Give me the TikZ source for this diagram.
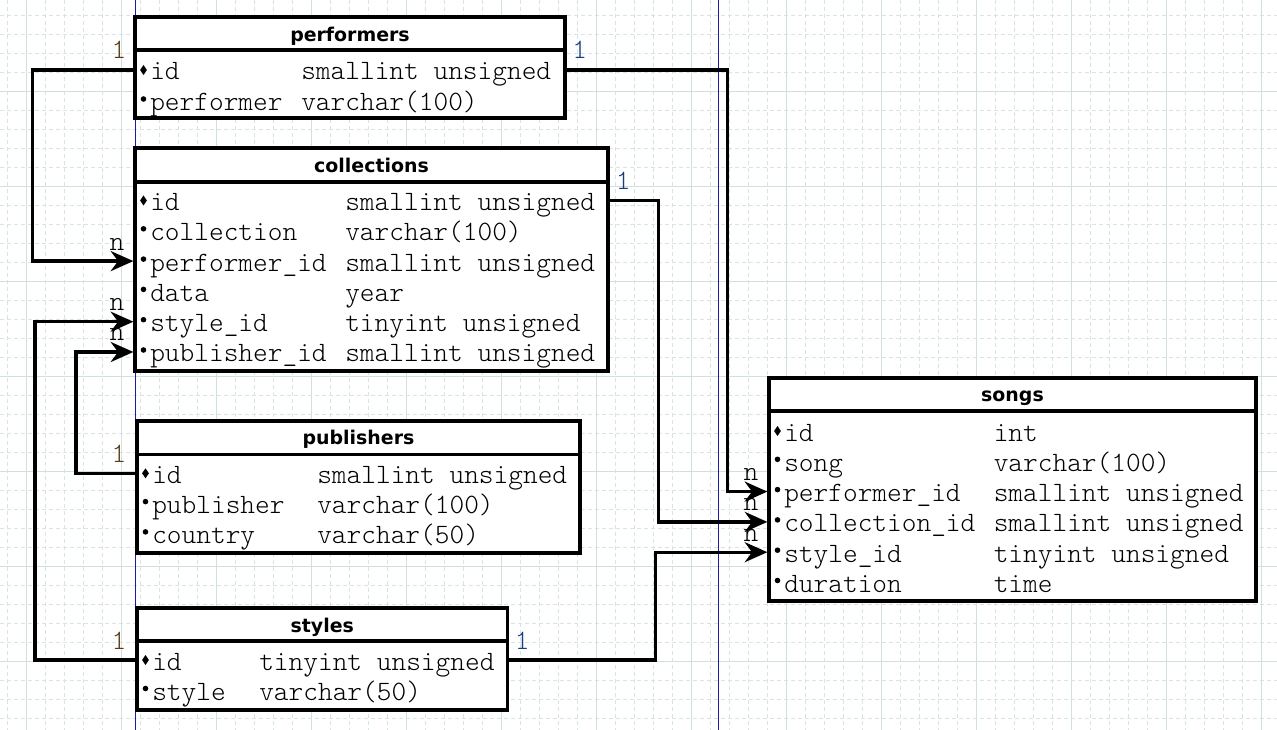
\documentclass[tikz,border=0pt]{standalone}
\usepackage{fontspec}
\newfontfamily\titlefont{DejaVu Sans}
\newfontfamily\fieldfont{Latin Modern Mono Light}
\usetikzlibrary{arrows.meta,fit}
\definecolor{gridmaj}{HTML}{CFE0DF}
\definecolor{gridmin}{HTML}{D6E4E3}
\definecolor{guide}{HTML}{1A1AA8}
\definecolor{lblL}{HTML}{5A3A14}
\definecolor{lblR}{HTML}{1C3C82}
\newcommand{\keyb}[2]{\fill (#1,#2-15) -- (#1+3.4,#2-10) -- (#1,#2-5) -- (#1-3.4,#2-10) -- cycle;}
\newcommand{\dotb}[2]{\fill (#1,#2-12) circle[radius=2.8];}
\newcommand{\frow}[8]{%
  \coordinate (#1) at (0,#4-10);
  #2{#3}{#4}
  \node[fld] (#1-n) at (#5,#4) {#6};
  \node[fld] (#1-t) at (#7,#4) {#8};
}
\begin{document}
\begin{tikzpicture}[x=0.75pt,y=-0.75pt,
  gmin/.style={draw=gridmin,line width=0.75pt,dash pattern=on 3pt off 2.25pt},
  gmaj/.style={draw=gridmaj,line width=0.75pt},
  guideline/.style={draw=guide,line width=0.75pt},
  tbox/.style={draw=black,fill=white,line width=2.4pt,inner sep=0pt},
  sepline/.style={draw=black,line width=2.4pt},
  ttl/.style={font=\titlefont\bfseries\fontsize{14.2pt}{16pt}\selectfont,anchor=base,inner sep=0pt},
  fld/.style={font=\fieldfont\fontsize{21pt}{24pt}\selectfont,anchor=base west,inner sep=0pt,text=black},
  lbl/.style={font=\fieldfont\fontsize{21pt}{24pt}\selectfont,inner sep=0pt},
  conn/.style={draw=black,line width=2.4pt,-{Stealth[length=17pt,width=15pt,inset=5.5pt]}},
  link/.style={draw=black,line width=2.4pt}
]
\useasboundingbox (0,0) rectangle (1277,730);
\fill[white] (0,0) rectangle (1277,730);
% grid
\foreach \k in {0,...,66} {\draw[gmin] ({7.7+19*\k},0) -- ({7.7+19*\k},730);}
\foreach \k in {0,...,37} {\draw[gmin] (0,{15.7+19*\k}) -- (1277,{15.7+19*\k});}
\foreach \k in {0,...,13} {\draw[gmaj] ({26.7+95*\k},0) -- ({26.7+95*\k},730);}
\foreach \k in {0,...,6} {\draw[gmaj] (0,{91.7+95*\k}) -- (1277,{91.7+95*\k});}
% guide lines
\draw[guideline] (135.5,0) -- (135.5,730);
\draw[guideline] (718.3,0) -- (718.3,730);

% performers
\node[tbox,fit={(135,17) (565,118)}] (performers) {};
\draw[sepline] (performers.west |- 0,50) -- (performers.east |- 0,50);
\node[ttl] (performers-title) at (performers.north |- 0,42) {performers};
\frow{p-id}{\keyb}{143.5}{80}{150}{id}{301}{smallint unsigned}
\frow{p-perf}{\dotb}{143.5}{111}{150}{performer}{301}{varchar(100)}

% collections
\node[tbox,fit={(135,148) (608,371)}] (collections) {};
\draw[sepline] (collections.west |- 0,182) -- (collections.east |- 0,182);
\node[ttl] (collections-title) at (collections.north |- 0,173) {collections};
\frow{c-id}{\keyb}{143.5}{210.5}{150}{id}{345}{smallint unsigned}
\frow{c-coll}{\dotb}{143.5}{240.8}{150}{collection}{345}{varchar(100)}
\frow{c-perf}{\dotb}{143.5}{271.1}{150}{performer\_id}{345}{smallint unsigned}
\frow{c-data}{\dotb}{143.5}{301.4}{150}{data}{345}{year}
\frow{c-style}{\dotb}{143.5}{331.7}{150}{style\_id}{345}{tinyint unsigned}
\frow{c-pub}{\dotb}{143.5}{362.0}{150}{publisher\_id}{345}{smallint unsigned}

% publishers
\node[tbox,fit={(137,421) (580,553)}] (publishers) {};
\draw[sepline] (publishers.west |- 0,454.5) -- (publishers.east |- 0,454.5);
\node[ttl] (publishers-title) at (publishers.north |- 0,445) {publishers};
\frow{pu-id}{\keyb}{145.5}{483.3}{152}{id}{317}{smallint unsigned}
\frow{pu-pub}{\dotb}{145.5}{513.6}{152}{publisher}{317}{varchar(100)}
\frow{pu-country}{\dotb}{145.5}{543.9}{152}{country}{317}{varchar(50)}

% styles
\node[tbox,fit={(137,608) (507.5,710)}] (styles) {};
\draw[sepline] (styles.west |- 0,641) -- (styles.east |- 0,641);
\node[ttl] (styles-title) at (styles.north |- 0,632) {styles};
\frow{st-id}{\keyb}{145.5}{670}{152}{id}{259}{tinyint unsigned}
\frow{st-style}{\dotb}{145.5}{700.5}{152}{style}{259}{varchar(50)}

% songs
\node[tbox,fit={(769,378) (1256,601)}] (songs) {};
\draw[sepline] (songs.west |- 0,411) -- (songs.east |- 0,411);
\node[ttl] (songs-title) at (songs.north |- 0,402) {songs};
\frow{s-id}{\keyb}{777.5}{441}{784}{id}{993.5}{int}
\frow{s-song}{\dotb}{777.5}{471.3}{784}{song}{993.5}{varchar(100)}
\frow{s-perf}{\dotb}{777.5}{501.6}{784}{performer\_id}{993.5}{smallint unsigned}
\frow{s-coll}{\dotb}{777.5}{531.9}{784}{collection\_id}{993.5}{smallint unsigned}
\frow{s-style}{\dotb}{777.5}{562.2}{784}{style\_id}{993.5}{tinyint unsigned}
\frow{s-dur}{\dotb}{777.5}{592.5}{784}{duration}{993.5}{time}

% bend columns
\coordinate (bA) at (727.5,0);
\coordinate (bB) at (32.5,0);
\coordinate (bC) at (658.5,0);
\coordinate (bD) at (35,0);
\coordinate (bE) at (76,0);
\coordinate (bF) at (655.3,0);

% connectors
\draw[conn] (performers.east |- p-id) -| (bA |- s-perf) -- (songs.west |- s-perf);
\draw[conn] (performers.west |- p-id) -| (bB |- c-perf) -- (collections.west |- c-perf);
\draw[conn] (collections.east |- c-id) -| (bC |- s-coll) -- (songs.west |- s-coll);
\draw[conn] (styles.west |- st-id) -| (bD |- c-style) -- (collections.west |- c-style);
\draw[conn] (publishers.west |- pu-id) -| (bE |- c-pub) -- (collections.west |- c-pub);
\draw[conn] (styles.east |- st-id) -| (bF |- s-style) -- (songs.west |- s-style);

% cardinality labels
\node[lbl,text=lblL,anchor=base east] (lA1) at (126.5,59) {1};
\node[lbl,text=lblR,anchor=base west] (lA2) at (572,59) {1};
\node[lbl,text=black,anchor=base east] (lAn) at (758.5,480.6) {n};
\node[lbl,text=black,anchor=base east] (lBn) at (124.5,250.3) {n};
\node[lbl,text=lblR,anchor=base west] (lC1) at (615.5,189.5) {1};
\node[lbl,text=black,anchor=base east] (lCn) at (758.5,510.9) {n};
\node[lbl,text=lblL,anchor=base east] (lD1) at (126.5,649) {1};
\node[lbl,text=black,anchor=base east] (lDn) at (124.5,310.7) {n};
\node[lbl,text=lblL,anchor=base east] (lE1) at (126.5,462.3) {1};
\node[lbl,text=black,anchor=base east] (lEn) at (124.5,341) {n};
\node[lbl,text=lblR,anchor=base west] (lF1) at (514.5,649) {1};
\node[lbl,text=black,anchor=base east] (lFn) at (758.5,541.2) {n};
\end{tikzpicture}
\end{document}
